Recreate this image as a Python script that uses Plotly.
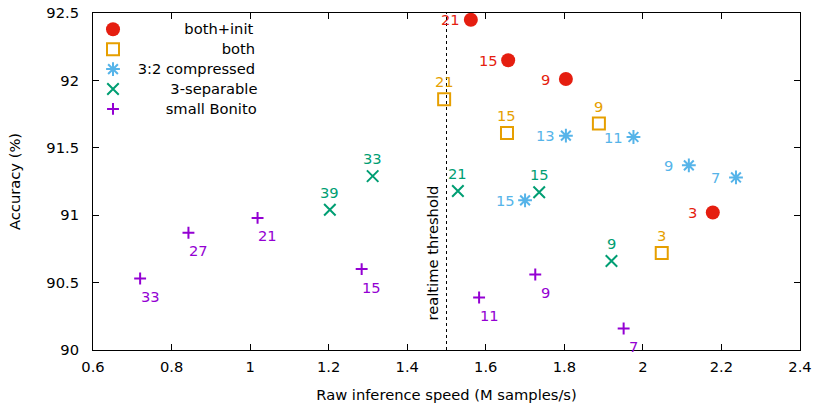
import plotly.graph_objects as go

FONT = "DejaVu Sans"
FS = 14.7

# Series data: x = raw inference speed (M samples/s), y = accuracy (%), labels = kernel size
init_x = [1.562, 1.657, 1.804, 2.178]
init_y = [92.45, 92.15, 92.01, 91.02]
init_lab = ["21", "15", "9", "3"]

both_x = [1.494, 1.654, 1.888, 2.048]
both_y = [91.86, 91.61, 91.68, 90.72]
both_lab = ["21", "15", "9", "3"]

comp_x = [1.804, 1.976, 2.117, 2.237, 1.700]
comp_y = [91.59, 91.58, 91.37, 91.28, 91.11]
comp_lab = ["13", "11", "9", "7", "15"]

sep_x = [1.203, 1.312, 1.529, 1.736, 1.920]
sep_y = [91.04, 91.29, 91.18, 91.17, 90.66]
sep_lab = ["39", "33", "21", "15", "9"]

bon_x = [0.720, 0.843, 1.019, 1.284, 1.583, 1.726, 1.951]
bon_y = [90.53, 90.87, 90.98, 90.60, 90.39, 90.56, 90.16]
bon_lab = ["33", "27", "21", "15", "11", "9", "7"]

threshold = 1.5
x_ticks = [0.6, 0.8, 1.0, 1.2, 1.4, 1.6, 1.8, 2.0, 2.2, 2.4]
x_tick_text = ["0.6", "0.8", "1", "1.2", "1.4", "1.6", "1.8", "2", "2.2", "2.4"]
y_ticks = [90, 90.5, 91, 91.5, 92, 92.5]
y_tick_text = ["90", "90.5", "91", "91.5", "92", "92.5"]

RED, ORANGE, BLUE, GREEN, PURPLE = "#e51e10", "#e69f00", "#56b4e9", "#009e73", "#9400d3"
NB = "\u00a0"

fig = go.Figure()

def add(x, y, lab, name, pad, color, symbol, size, lw, dx, dy):
    fig.add_trace(go.Scatter(
        x=x, y=y, name='<span style="font-size:%gpx">%s</span>' % (FS, NB * pad + name),
        mode="markers",
        marker=dict(color=color, symbol=symbol, size=size,
                    line=dict(color=color, width=lw)),
        cliponaxis=False,
    ))
    for xi, yi, t in zip(x, y, lab):
        fig.add_annotation(x=xi, y=yi, xref="x", yref="y", text=t, showarrow=False,
                           xanchor="center", yanchor="middle", xshift=dx, yshift=dy,
                           font=dict(family=FONT, size=FS, color=color))

add(init_x, init_y, init_lab, "both+init", 11, RED, "circle", 14, 0, -20, 0)
add(both_x, both_y, both_lab, "both", 19, ORANGE, "square-open", 12, 2, 0, 17.5)
add(comp_x, comp_y, comp_lab, "3:2 compressed", 1, BLUE, "asterisk-open", 11.5, 2, -20, 0)
add(sep_x, sep_y, sep_lab, "3-separable", 8, GREEN, "x-thin-open", 11.5, 2, 0, 17.5)
add(bon_x, bon_y, bon_lab, "small Bonito", 7, PURPLE, "cross-thin-open", 8.5, 2, 10, -18)

fig.add_shape(type="line", xref="x", yref="y", x0=threshold, x1=threshold,
              y0=90, y1=92.5, line=dict(color="black", width=1, dash="dot"))
fig.add_annotation(x=threshold, y=90.2, xref="x", yref="y", text="realtime threshold",
                   textangle=-90, showarrow=False, xanchor="right", yanchor="bottom",
                   xshift=-3, font=dict(family=FONT, size=FS, color="black"))

axis_common = dict(showline=True, linecolor="black", linewidth=1, mirror="ticks",
                   ticks="inside", ticklen=6, tickcolor="black", showgrid=False,
                   zeroline=False, automargin=False,
                   tickfont=dict(family=FONT, size=FS, color="black"))

fig.update_xaxes(range=[0.6, 2.4], tickvals=x_ticks, ticktext=x_tick_text,
                 ticklabelstandoff=3,
                 title=dict(text="Raw inference speed (M samples/s)",
                            font=dict(family=FONT, size=FS, color="black"), standoff=16),
                 **axis_common)
fig.update_yaxes(range=[90, 92.5], tickvals=y_ticks, ticktext=y_tick_text,
                 ticklabelstandoff=10,
                 title=dict(text="Accuracy (%)",
                            font=dict(family=FONT, size=FS, color="black"), standoff=22),
                 **axis_common)

fig.update_layout(
    width=816, height=405,
    margin=dict(l=93, r=16, t=13, b=55, autoexpand=False),
    plot_bgcolor="white", paper_bgcolor="white",
    font=dict(family=FONT, size=FS, color="black"),
    legend=dict(x=0, y=0.996, xanchor="left", yanchor="top", bgcolor="rgba(0,0,0,0)",
                font=dict(family=FONT, size=13.0, color="black"), tracegroupgap=0,
                itemsizing="trace"),
)

fig.write_html("out.html", config={"displayModeBar": False},
               post_script="document.body.style.margin='0';")
